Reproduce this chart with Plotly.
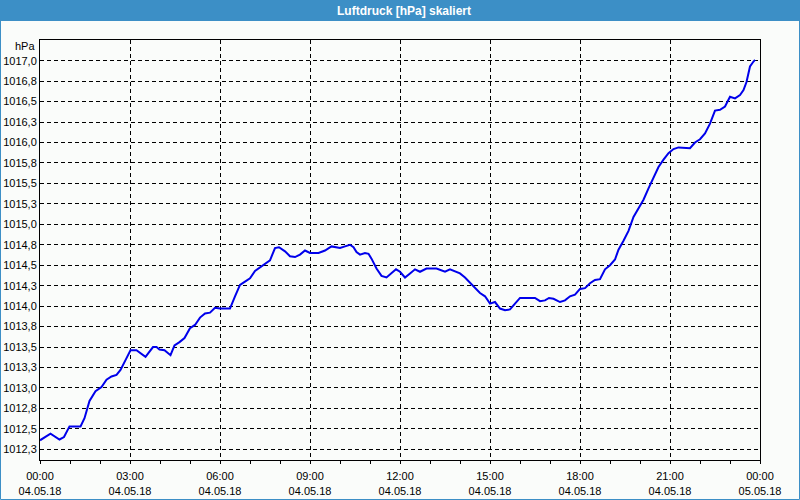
import pandas as pd
import plotly.graph_objects as go

# minutes after 04.05.18 00:00
minutes = [0, 21, 39, 48, 59, 81, 89, 99, 111, 123, 133, 143, 153, 161, 171, 181, 193, 211, 226, 233,
           239, 249, 261, 269, 279, 289, 300, 310, 320, 330, 340, 350, 360, 380, 390, 400, 410, 420, 430, 440,
           450, 460, 470, 478, 490, 500, 510, 520, 530, 540, 557, 570, 583, 600, 610, 620, 627, 633, 640, 650,
           657, 663, 673, 683, 693, 703, 712, 720, 730, 740, 750, 760, 773, 793, 810, 820, 830, 840, 850, 860,
           870, 880, 890, 900, 910, 920, 930, 940, 950, 960, 990, 1000, 1010, 1018, 1027, 1040, 1050, 1060, 1070, 1080,
           1090, 1100, 1110, 1120, 1130, 1140, 1150, 1157, 1167, 1177, 1187, 1197, 1207, 1217, 1227, 1237, 1247, 1257, 1267, 1277,
           1300, 1310, 1320, 1330, 1340, 1350, 1360, 1370, 1380, 1390, 1400, 1407, 1413, 1420, 1427, 1430]
pressure = [1012.36, 1012.44, 1012.37, 1012.40, 1012.53, 1012.53, 1012.63, 1012.84, 1012.96, 1013.01,
            1013.10, 1013.14, 1013.16, 1013.22, 1013.34, 1013.46, 1013.46, 1013.38, 1013.50, 1013.50,
            1013.47, 1013.46, 1013.40, 1013.52, 1013.56, 1013.61, 1013.73, 1013.77, 1013.86, 1013.91,
            1013.92, 1013.98, 1013.97, 1013.97, 1014.12, 1014.26, 1014.30, 1014.34, 1014.43, 1014.47,
            1014.51, 1014.56, 1014.71, 1014.72, 1014.67, 1014.61, 1014.60, 1014.63, 1014.68, 1014.65,
            1014.65, 1014.68, 1014.73, 1014.71, 1014.73, 1014.75, 1014.72, 1014.66, 1014.63, 1014.65,
            1014.64, 1014.58, 1014.46, 1014.37, 1014.35, 1014.40, 1014.45, 1014.42, 1014.35, 1014.40,
            1014.45, 1014.42, 1014.46, 1014.46, 1014.42, 1014.45, 1014.42, 1014.40, 1014.35, 1014.29,
            1014.23, 1014.16, 1014.12, 1014.03, 1014.05, 1013.97, 1013.95, 1013.96, 1014.03, 1014.10,
            1014.10, 1014.06, 1014.07, 1014.10, 1014.09, 1014.05, 1014.07, 1014.12, 1014.14, 1014.21,
            1014.22, 1014.28, 1014.32, 1014.33, 1014.45, 1014.50, 1014.57, 1014.69, 1014.80, 1014.92,
            1015.09, 1015.19, 1015.30, 1015.44, 1015.58, 1015.70, 1015.79, 1015.87, 1015.92, 1015.94,
            1015.93, 1016.00, 1016.04, 1016.11, 1016.23, 1016.39, 1016.40, 1016.44, 1016.56, 1016.54,
            1016.58, 1016.64, 1016.74, 1016.93, 1016.99, 1017.01]

y_tickvals = [1012.25 + 0.25 * k for k in range(20)]
y_ticktext = ["1012,3", "1012,5", "1012,8", "1013,0", "1013,3", "1013,5", "1013,8", "1014,0", "1014,3", "1014,5",
              "1014,8", "1015,0", "1015,3", "1015,5", "1015,8", "1016,0", "1016,3", "1016,5", "1016,8", "1017,0"]

start = pd.Timestamp("2018-05-04 00:00")
x = [start + pd.Timedelta(minutes=m) for m in minutes]

BG = "rgb(250,252,250)"
BLUE = "rgb(60,143,198)"
FONT = "Liberation Sans"

fig = go.Figure()
fig.add_trace(go.Scatter(x=x, y=pressure, mode="lines",
                         line=dict(color="rgb(0,0,235)", width=2), hoverinfo="skip"))

W, H = 800, 500
L, R, T, B = 40, 40, 40, 40
pw, ph = W - L - R, H - T - B

def px_x(p):
    return (p - L) / pw

def px_y(p):
    return (H - B - p) / ph

fig.update_layout(
    width=W, height=H,
    margin=dict(l=L, r=R, t=T, b=B, autoexpand=False),
    paper_bgcolor=BG, plot_bgcolor=BG,
    showlegend=False,
    font=dict(family=FONT, size=11, color="black"),
    xaxis=dict(
        type="date",
        automargin=False,
        range=[start, start + pd.Timedelta(hours=24)],
        tick0=start, dtick=3 * 3600 * 1000,
        tickformat="%H:%M<br>%d.%m.%y",
        ticks="outside", ticklen=3, tickcolor="black",
        ticklabelstandoff=3,
        showgrid=True, gridcolor="black", griddash="4px,3px", gridwidth=1,
        showline=True, linecolor="black", linewidth=1, mirror=True,
        zeroline=False,
        minor=dict(dtick=3600 * 1000, ticks="outside", ticklen=3, tickcolor="black", showgrid=False),
        tickfont=dict(family=FONT, size=11, color="black"),
    ),
    yaxis=dict(
        automargin=False,
        range=[1012.119, 1017.253],
        tickmode="array", tickvals=y_tickvals, ticktext=y_ticktext,
        ticks="", showgrid=True, gridcolor="black", griddash="4px,3px", gridwidth=1,
        showline=True, linecolor="black", linewidth=1, mirror=True,
        zeroline=False,
        tickfont=dict(family=FONT, size=11, color="black"),
    ),
    shapes=[
        dict(type="rect", xref="paper", yref="paper",
             x0=px_x(0), x1=px_x(W), y0=px_y(21), y1=px_y(0),
             fillcolor=BLUE, line=dict(width=0), layer="above"),
        dict(type="rect", xref="paper", yref="paper",
             x0=px_x(0.5), x1=px_x(W - 0.5), y0=px_y(H - 0.5), y1=px_y(0.5),
             fillcolor="rgba(0,0,0,0)", line=dict(color=BLUE, width=1), layer="above"),
    ],
    annotations=[
        dict(text="<b>Luftdruck [hPa] skaliert</b>", xref="paper", yref="paper",
             x=px_x(404), y=px_y(10.5), xanchor="center", yanchor="middle", showarrow=False,
             font=dict(family=FONT, size=12, color="white")),
        dict(text="hPa", xref="paper", yref="paper",
             x=px_x(37), y=px_y(46), xanchor="right", yanchor="middle", showarrow=False,
             font=dict(family=FONT, size=11, color="black")),
    ],
)

fig.write_html("out.html")
